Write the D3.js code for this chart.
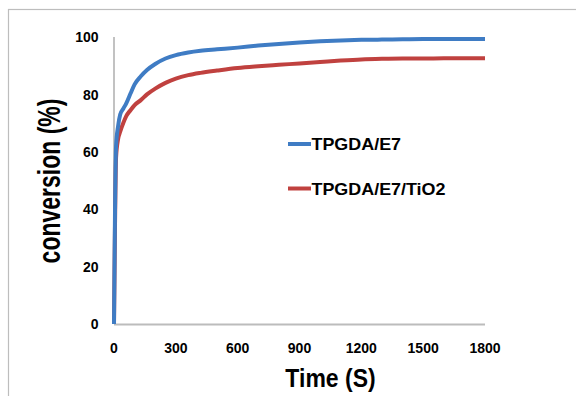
<!DOCTYPE html>
<html><head><meta charset="utf-8">
<script src="https://cdn.jsdelivr.net/npm/d3@7"></script>
<style>body{margin:0;background:#fff}svg{display:block}text{font-family:Arial,"Liberation Sans",sans-serif;font-weight:bold;fill:#000}</style>
</head><body><svg id="c" width="576" height="396"></svg>
<script>
const time = [0,5,10,20,30,45,60,80,100,130,160,200,250,300,360,420,500,600,700,800,900,1000,1100,1200,1300,1400,1500,1600,1700,1800];
const tpgdaE7 = [0,40,62,69,73,75,77,80.3,83.5,86.3,88.5,90.6,92.5,93.7,94.6,95.2,95.7,96.3,97,97.6,98.1,98.5,98.8,99.0,99.1,99.2,99.3,99.3,99.3,99.3];
const tpgdaE7TiO2 = [0,35,58,64.5,67,70,72.5,74.5,76.3,78,80,82,84,85.5,86.7,87.5,88.3,89.2,89.8,90.3,90.8,91.3,91.8,92.2,92.4,92.5,92.5,92.6,92.6,92.6];
const xTicks = [0,300,600,900,1200,1500,1800];
const yTicks = [0,20,40,60,80,100];
const seriesNames = ["TPGDA/E7","TPGDA/E7/TiO2"];
const colors = ["#3f7cc4","#c0413f"];

const svg = d3.select("#c");
// outer border
svg.append("rect").attr("x",8.5).attr("y",9.5).attr("width",600).attr("height",400)
  .attr("fill","none").attr("stroke","#bdbdbd").attr("stroke-width",1.2);

const x = d3.scaleLinear().domain([0,1800]).range([114,485]);
const y = d3.scaleLinear().domain([0,100]).range([324,37]);

// axes lines
svg.append("line").attr("x1",x(0)).attr("x2",x(0)).attr("y1",y(100)).attr("y2",y(0)).attr("stroke","#858585").attr("stroke-width",1);
svg.append("line").attr("x1",x(0)).attr("x2",x(1800)).attr("y1",y(0)+0.5).attr("y2",y(0)+0.5).attr("stroke","#bcbcbc").attr("stroke-width",2);

// tick labels
svg.selectAll(".yt").data(yTicks).enter().append("text")
  .attr("x",98.5).attr("y",d=>y(d)+5.2).attr("text-anchor","end").attr("font-size",14).text(d=>d);
svg.selectAll(".xt").data(xTicks).enter().append("text")
  .attr("x",d=>x(d)).attr("y",353).attr("text-anchor","middle").attr("font-size",14).text(d=>d);

// titles
svg.append("text").attr("transform","translate(330.5,387) scale(1,1.12)").attr("text-anchor","middle").attr("font-size",23).text("Time (S)");
svg.append("text").attr("transform","translate(60,181) rotate(-90) scale(1,1.35)").attr("text-anchor","middle").attr("font-size",23).text("conversion (%)");

const line = d3.line().x((d,i)=>x(time[i])).y(d=>y(d)).curve(d3.curveMonotoneX);
[tpgdaE7TiO2,tpgdaE7].forEach((s,k)=>{
  const c = k===0?colors[1]:colors[0];
  svg.append("path").attr("d",line(s)).attr("fill","none").attr("stroke",c).attr("stroke-width",4).attr("stroke-linejoin","round");
});

// legend
const ly = [144,188.5];
seriesNames.forEach((n,i)=>{
  svg.append("line").attr("x1",288).attr("x2",311).attr("y1",ly[i]).attr("y2",ly[i]).attr("stroke",colors[i]).attr("stroke-width",4);
  svg.append("text").attr("transform",`translate(311.5,${ly[i]+6}) scale(1.12,1)`).attr("font-size",16).text(n);
});
</script></body></html>
